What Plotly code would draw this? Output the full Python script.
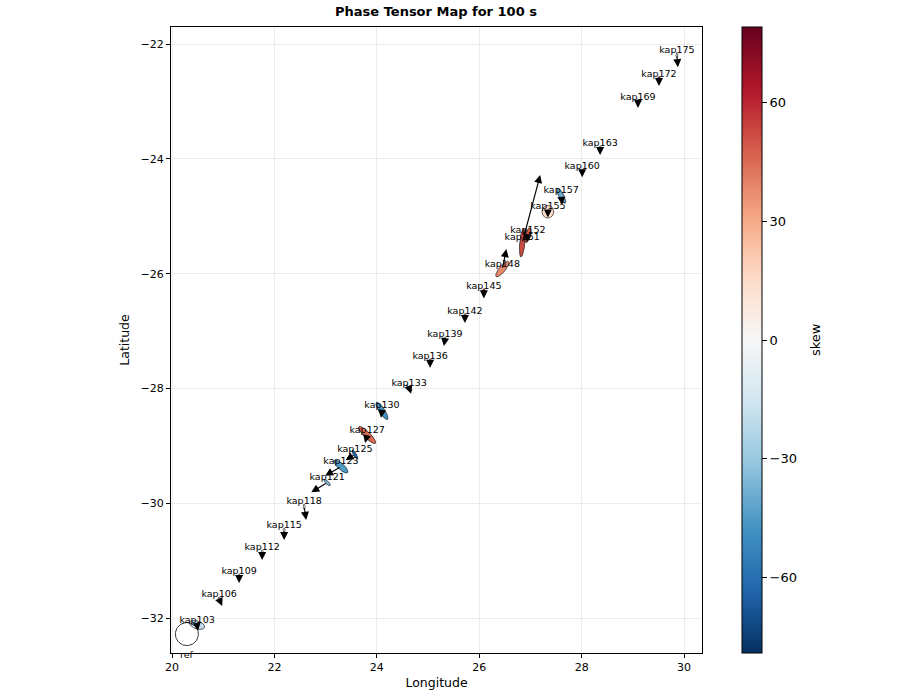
import numpy as np
import plotly.graph_objects as go
from plotly.colors import diverging, sample_colorscale

# ---------------- data ----------------
stations = ["kap103", "kap106", "kap109", "kap112", "kap115", "kap118", "kap121",
            "kap123", "kap125", "kap127", "kap130", "kap133", "kap136", "kap139",
            "kap142", "kap145", "kap148", "kap151", "kap152", "kap155", "kap157",
            "kap160", "kap163", "kap169", "kap172", "kap175"]
lons = [20.49, 20.92, 21.31, 21.76, 22.19, 22.58, 23.03,
        23.30, 23.57, 23.81, 24.10, 24.63, 25.04, 25.33,
        25.72, 26.09, 26.45, 26.84, 26.95, 27.34, 27.60,
        28.01, 28.36, 29.10, 29.51, 29.86]
lats = [-32.12, -31.67, -31.27, -30.85, -30.47, -30.06, -29.64,
        -29.36, -29.15, -28.81, -28.39, -27.99, -27.52, -27.14,
        -26.74, -26.31, -25.92, -25.46, -25.33, -24.92, -24.64,
        -24.22, -23.81, -23.01, -22.61, -22.19]
# phase tensor ellipse semi-axes (deg) and azimuth of major axis (deg from N)
ell_major = [0.156, 0.04, 0.04, 0.04, 0.04, 0.05, 0.08,
             0.176, 0.10, 0.23, 0.20, 0.08, 0.04, 0.04,
             0.05, 0.05, 0.19, 0.28, 0.15, 0.125, 0.165,
             0.04, 0.04, 0.05, 0.05, 0.05]
ell_minor = [0.078, 0.02, 0.02, 0.02, 0.02, 0.02, 0.03,
             0.06, 0.03, 0.06, 0.055, 0.02, 0.02, 0.02,
             0.025, 0.03, 0.06, 0.05, 0.05, 0.115, 0.05,
             0.02, 0.02, 0.03, 0.03, 0.02]
ell_azimuth = [108, 0, 0, 0, 0, 0, 135,
               133, 150, 135, 147, 135, 0, 0,
               0, 0, 39, 5, 15, 0, 152,
               0, 0, 0, 0, 0]
skew = [-20, -10, 5, 0, -5, 0, -35,
        -45, -62, 45, -48, -40, 10, -10,
        45, 62, 38, 52, 48, 15, -40,
        0, 0, 30, 65, -5]
# real induction arrows (deg)
tip_dx = [0.02, 0.06, 0.0, 0.0, 0.0, 0.04, -0.31,
          -0.31, -0.18, -0.04, -0.02, 0.04, 0.0, -0.02,
          0.0, 0.0, 0.08, 0.35, -0.02, 0.0, 0.02,
          0.0, 0.0, 0.0, 0.0, 0.02]
tip_dy = [-0.10, -0.12, -0.12, -0.14, -0.17, -0.23, -0.17,
          -0.16, -0.10, -0.14, -0.12, -0.10, -0.12, -0.12,
          -0.12, -0.12, 0.35, 1.18, -0.12, -0.10, -0.16,
          -0.10, -0.12, -0.10, -0.12, -0.21]
ref_lon, ref_lat, ref_radius = 20.29, -32.28, 0.225
skew_min, skew_max = -79, 79

# ---------------- layout geometry ----------------
W, H = 900, 700
ML, MR, MT, MB = 171, 198, 27, 45
xr = [19.98, 30.35]
yr = [-32.61, -21.70]
PW = W - ML - MR
px_x = PW / (xr[1] - xr[0])
px_y = (H - MT - MB) / (yr[1] - yr[0])
KY = px_x / px_y

cs_list = list(reversed(diverging.RdBu))
n = len(cs_list)
colorscale = [[i / (n - 1), c] for i, c in enumerate(cs_list)]

t = np.linspace(0, 2 * np.pi, 72)


def ellipse(lon, lat, a, b, az):
    th = np.deg2rad(az)
    u = a * np.cos(t)
    v = b * np.sin(t)
    east = u * np.sin(th) + v * np.cos(th)
    north = u * np.cos(th) - v * np.sin(th)
    return lon + east, lat + north * KY


fig = go.Figure()

for i, s in enumerate(stations):
    ex, ey = ellipse(lons[i], lats[i], ell_major[i], ell_minor[i], ell_azimuth[i])
    col = sample_colorscale(colorscale, [(skew[i] - skew_min) / (skew_max - skew_min)])[0]
    fig.add_trace(go.Scatter(x=ex, y=ey, mode="lines", fill="toself", fillcolor=col,
                             line=dict(color="black", width=0.6), hoverinfo="skip",
                             showlegend=False))

# reference circle
rx, ry = ellipse(ref_lon, ref_lat, ref_radius, ref_radius, 0)
fig.add_trace(go.Scatter(x=rx, y=ry, mode="lines", line=dict(color="black", width=0.8),
                         hoverinfo="skip", showlegend=False))

# station labels
fig.add_trace(go.Scatter(x=lons, y=lats, mode="text", text=stations,
                         textposition="top center",
                         textfont=dict(family="DejaVu Sans", size=9.5, color="black"),
                         cliponaxis=False, showlegend=False, hoverinfo="skip"))

# colorbar holder
fig.add_trace(go.Scatter(x=[None, None], y=[None, None], mode="markers",
                         marker=dict(color=[skew_min, skew_max], colorscale=colorscale,
                                     cmin=skew_min, cmax=skew_max, showscale=True,
                                     colorbar=dict(
                                         x=(742 - ML) / PW, xanchor="left",
                                         xpad=0, ypad=0, thickness=20,
                                         len=1, lenmode="fraction", y=0.5, yanchor="middle",
                                         outlinewidth=1, outlinecolor="black",
                                         tickvals=[-60, -30, 0, 30, 60],
                                         ticks="outside", ticklen=5, tickcolor="black",
                                         tickfont=dict(family="DejaVu Sans", size=13, color="black"))),
                         showlegend=False, hoverinfo="skip"))

annotations = []
for i in range(len(stations)):
    annotations.append(dict(x=lons[i] + tip_dx[i], y=lats[i] + tip_dy[i],
                            ax=lons[i], ay=lats[i], xref="x", yref="y",
                            axref="x", ayref="y", text="", showarrow=True,
                            arrowhead=2, arrowsize=1.4, arrowwidth=1.15,
                            arrowcolor="black", standoff=0, startstandoff=0))
annotations.append(dict(x=ref_lon, y=ref_lat - ref_radius * KY, xref="x", yref="y",
                        text="ref", showarrow=False, yanchor="top", yshift=-1,
                        font=dict(family="DejaVu Sans", size=9.5, color="black")))
annotations.append(dict(x=(815 - ML) / PW, y=0.5, xref="paper", yref="paper",
                        text="skew", showarrow=False, textangle=-90,
                        xanchor="center", yanchor="middle",
                        font=dict(family="DejaVu Sans", size=13, color="black")))

axis_common = dict(showline=True, linecolor="black", linewidth=1, mirror=True,
                   ticks="outside", ticklen=4, tickcolor="black",
                   showgrid=True, gridcolor="rgba(0,0,0,0.07)", gridwidth=1,
                   zeroline=False,
                   tickfont=dict(family="DejaVu Sans", size=11, color="black"))

fig.update_layout(
    width=W, height=H,
    margin=dict(l=ML, r=MR, t=MT, b=MB),
    paper_bgcolor="white", plot_bgcolor="white",
    title=dict(text="<b>Phase Tensor Map for 100 s</b>", x=436 / W, xanchor="center",
               y=1 - 11 / H, yanchor="middle", yref="container",
               font=dict(family="DejaVu Sans", size=13, color="black")),
    xaxis=dict(range=xr, tickvals=[20, 22, 24, 26, 28, 30],
               title=dict(text="Longitude", standoff=5,
                          font=dict(family="DejaVu Sans", size=12.5, color="black")),
               **axis_common),
    yaxis=dict(range=yr, tickvals=[-22, -24, -26, -28, -30, -32],
               title=dict(text="Latitude", standoff=8,
                          font=dict(family="DejaVu Sans", size=12.5, color="black")),
               **axis_common),
    annotations=annotations,
    font=dict(family="DejaVu Sans"),
)

fig.write_html("out.html")
